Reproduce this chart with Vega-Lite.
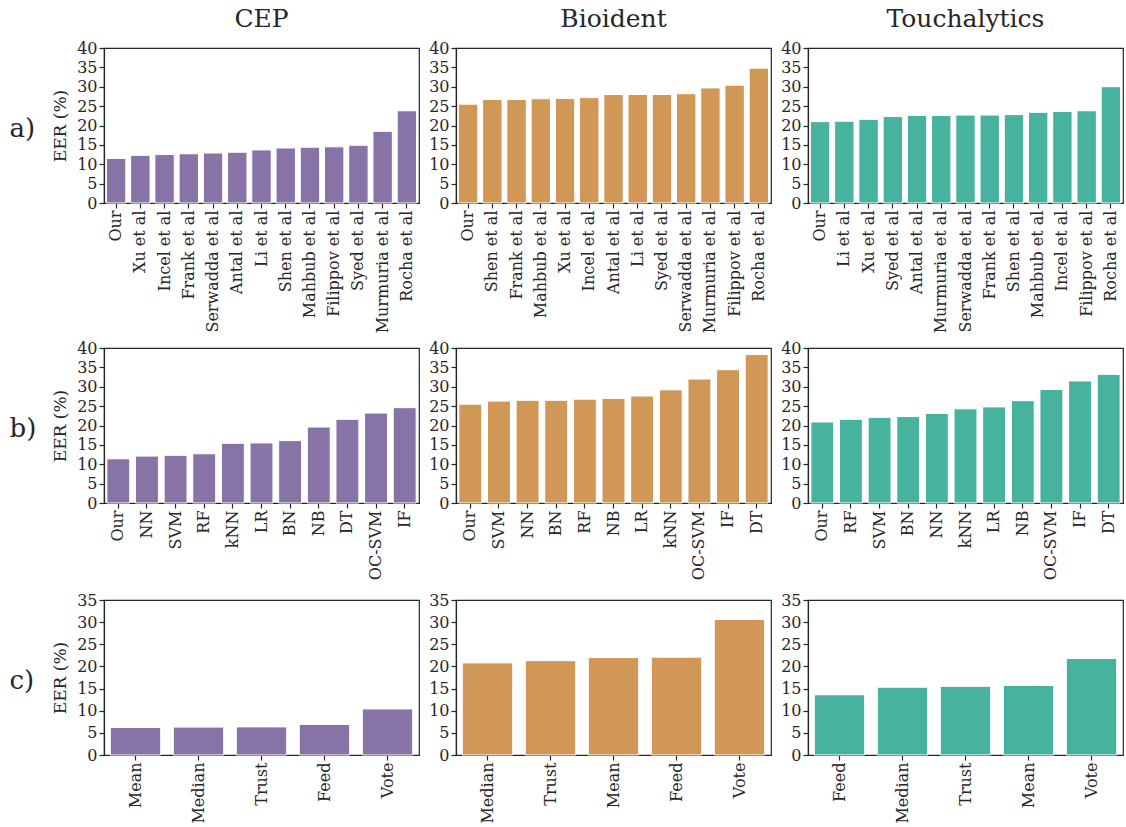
{
  "$schema": "https://vega.github.io/schema/vega-lite/v6.json",
  "background": "white",
  "padding": {"left": 8, "top": 6, "right": 2, "bottom": 2},
  "spacing": 5,
  "config": {
    "font": "DejaVu Serif",
    "view": {"stroke": "#262626", "strokeWidth": 1.2},
    "axis": {"labelFont": "DejaVu Serif", "labelFontSize": 16, "labelColor": "#262626", "domainColor": "#262626", "domainWidth": 1.2, "tickColor": "#262626", "tickSize": 5, "tickWidth": 1.2, "grid": false, "titleFont": "DejaVu Serif", "titleFontWeight": "normal", "titleFontSize": 17, "titleColor": "#262626", "labelPadding": 2},
    "title": {"font": "DejaVu Serif", "fontSize": 25, "fontWeight": "normal", "color": "#262626", "offset": 8},
    "bar": {"stroke": "white", "strokeWidth": 1},
    "concat": {"spacing": 8}
  },
  "datasets": {
    "cep_a": [
      {"method": "Our", "eer": 11.5}, {"method": "Xu et al", "eer": 12.3}, {"method": "Incel et al", "eer": 12.5},
      {"method": "Frank et al", "eer": 12.7}, {"method": "Serwadda et al", "eer": 12.9}, {"method": "Antal et al", "eer": 13.1},
      {"method": "Li et al", "eer": 13.7}, {"method": "Shen et al", "eer": 14.2}, {"method": "Mahbub et al", "eer": 14.4},
      {"method": "Filippov et al", "eer": 14.5}, {"method": "Syed et al", "eer": 14.9}, {"method": "Murmuria et al", "eer": 18.5},
      {"method": "Rocha et al", "eer": 23.8}
    ],
    "bio_a": [
      {"method": "Our", "eer": 25.5}, {"method": "Shen et al", "eer": 26.7}, {"method": "Frank et al", "eer": 26.7},
      {"method": "Mahbub et al", "eer": 26.9}, {"method": "Xu et al", "eer": 27.0}, {"method": "Incel et al", "eer": 27.2},
      {"method": "Antal et al", "eer": 28.0}, {"method": "Li et al", "eer": 28.0}, {"method": "Syed et al", "eer": 28.0},
      {"method": "Serwadda et al", "eer": 28.2}, {"method": "Murmuria et al", "eer": 29.7}, {"method": "Filippov et al", "eer": 30.4},
      {"method": "Rocha et al", "eer": 34.8}
    ],
    "touch_a": [
      {"method": "Our", "eer": 21.0}, {"method": "Li et al", "eer": 21.1}, {"method": "Xu et al", "eer": 21.6},
      {"method": "Syed et al", "eer": 22.3}, {"method": "Antal et al", "eer": 22.6}, {"method": "Murmuria et al", "eer": 22.6},
      {"method": "Serwadda et al", "eer": 22.7}, {"method": "Frank et al", "eer": 22.7}, {"method": "Shen et al", "eer": 22.8},
      {"method": "Mahbub et al", "eer": 23.4}, {"method": "Incel et al", "eer": 23.6}, {"method": "Filippov et al", "eer": 23.8},
      {"method": "Rocha et al", "eer": 30.0}
    ],
    "cep_b": [
      {"method": "Our", "eer": 11.4}, {"method": "NN", "eer": 12.1}, {"method": "SVM", "eer": 12.3}, {"method": "RF", "eer": 12.7},
      {"method": "kNN", "eer": 15.4}, {"method": "LR", "eer": 15.5}, {"method": "BN", "eer": 16.1}, {"method": "NB", "eer": 19.6},
      {"method": "DT", "eer": 21.6}, {"method": "OC-SVM", "eer": 23.2}, {"method": "IF", "eer": 24.6}
    ],
    "bio_b": [
      {"method": "Our", "eer": 25.5}, {"method": "SVM", "eer": 26.3}, {"method": "NN", "eer": 26.5}, {"method": "BN", "eer": 26.5},
      {"method": "RF", "eer": 26.8}, {"method": "NB", "eer": 27.0}, {"method": "LR", "eer": 27.6}, {"method": "kNN", "eer": 29.2},
      {"method": "OC-SVM", "eer": 32.0}, {"method": "IF", "eer": 34.4}, {"method": "DT", "eer": 38.3}
    ],
    "touch_b": [
      {"method": "Our", "eer": 20.9}, {"method": "RF", "eer": 21.6}, {"method": "SVM", "eer": 22.1}, {"method": "BN", "eer": 22.3},
      {"method": "NN", "eer": 23.1}, {"method": "kNN", "eer": 24.3}, {"method": "LR", "eer": 24.8}, {"method": "NB", "eer": 26.4},
      {"method": "OC-SVM", "eer": 29.3}, {"method": "IF", "eer": 31.5}, {"method": "DT", "eer": 33.2}
    ],
    "cep_c": [
      {"method": "Mean", "eer": 6.2}, {"method": "Median", "eer": 6.3}, {"method": "Trust", "eer": 6.35},
      {"method": "Feed", "eer": 6.9}, {"method": "Vote", "eer": 10.4}
    ],
    "bio_c": [
      {"method": "Median", "eer": 20.8}, {"method": "Trust", "eer": 21.3}, {"method": "Mean", "eer": 22.0},
      {"method": "Feed", "eer": 22.1}, {"method": "Vote", "eer": 30.6}
    ],
    "touch_c": [
      {"method": "Feed", "eer": 13.6}, {"method": "Median", "eer": 15.3}, {"method": "Trust", "eer": 15.5},
      {"method": "Mean", "eer": 15.7}, {"method": "Vote", "eer": 21.8}
    ]
  },
  "vconcat": [
    {
      "hconcat": [
        {
          "title": "CEP", "width": 315, "height": 155, "data": {"name": "cep_a"},
          "layer": [
            {"mark": {"type": "bar", "color": "#8773A5"},
             "encoding": {
               "x": {"field": "method", "type": "nominal", "sort": null, "title": null, "scale": {"paddingInner": 0.2, "paddingOuter": 0.1}, "axis": {"labelAngle": -90}},
               "y": {"field": "eer", "type": "quantitative", "scale": {"domain": [0, 40], "nice": false}, "axis": {"values": [0,5,10,15,20,25,30,35,40], "title": "EER (%)", "titlePadding": 7}}}},
            {"mark": {"type": "bar", "opacity": 0},
             "encoding": {
               "x": {"field": "method", "type": "nominal", "sort": null, "title": null},
               "y": {"field": "eer", "type": "quantitative", "scale": {"domain": [0, 40], "nice": false}, "axis": {"orient": "left", "title": "a)", "titleAngle": 0, "titleFontSize": 26, "titleAlign": "left", "titleBaseline": "middle", "titleX": -95, "titleY": 80, "labels": false, "ticks": false, "domain": false}}}}
          ],
          "resolve": {"scale": {"y": "independent"}}
        },
        {
          "title": "Bioident", "width": 315, "height": 155, "data": {"name": "bio_a"},
          "mark": {"type": "bar", "color": "#D09757"},
          "encoding": {
            "x": {"field": "method", "type": "nominal", "sort": null, "title": null, "scale": {"paddingInner": 0.2, "paddingOuter": 0.1}, "axis": {"labelAngle": -90}},
            "y": {"field": "eer", "type": "quantitative", "scale": {"domain": [0, 40], "nice": false}, "axis": {"values": [0,5,10,15,20,25,30,35,40], "title": null}}}
        },
        {
          "title": "Touchalytics", "width": 315, "height": 155, "data": {"name": "touch_a"},
          "mark": {"type": "bar", "color": "#47B29E"},
          "encoding": {
            "x": {"field": "method", "type": "nominal", "sort": null, "title": null, "scale": {"paddingInner": 0.2, "paddingOuter": 0.1}, "axis": {"labelAngle": -90}},
            "y": {"field": "eer", "type": "quantitative", "scale": {"domain": [0, 40], "nice": false}, "axis": {"values": [0,5,10,15,20,25,30,35,40], "title": null}}}
        }
      ]
    },
    {
      "spacing": 10,
      "vconcat": [
        {
          "hconcat": [
            {
              "width": 315, "height": 155, "data": {"name": "cep_b"},
              "layer": [
                {"mark": {"type": "bar", "color": "#8773A5"},
                 "encoding": {
                   "x": {"field": "method", "type": "nominal", "sort": null, "title": null, "scale": {"paddingInner": 0.2, "paddingOuter": 0.1}, "axis": {"labelAngle": -90}},
                   "y": {"field": "eer", "type": "quantitative", "scale": {"domain": [0, 40], "nice": false}, "axis": {"values": [0,5,10,15,20,25,30,35,40], "title": "EER (%)", "titlePadding": 7}}}},
                {"mark": {"type": "bar", "opacity": 0},
                 "encoding": {
                   "x": {"field": "method", "type": "nominal", "sort": null, "title": null},
                   "y": {"field": "eer", "type": "quantitative", "scale": {"domain": [0, 40], "nice": false}, "axis": {"orient": "left", "title": "b)", "titleAngle": 0, "titleFontSize": 26, "titleAlign": "left", "titleBaseline": "middle", "titleX": -95, "titleY": 80, "labels": false, "ticks": false, "domain": false}}}}
              ],
              "resolve": {"scale": {"y": "independent"}}
            },
            {
              "width": 315, "height": 155, "data": {"name": "bio_b"},
              "mark": {"type": "bar", "color": "#D09757"},
              "encoding": {
                "x": {"field": "method", "type": "nominal", "sort": null, "title": null, "scale": {"paddingInner": 0.2, "paddingOuter": 0.1}, "axis": {"labelAngle": -90}},
                "y": {"field": "eer", "type": "quantitative", "scale": {"domain": [0, 40], "nice": false}, "axis": {"values": [0,5,10,15,20,25,30,35,40], "title": null}}}
            },
            {
              "width": 315, "height": 155, "data": {"name": "touch_b"},
              "mark": {"type": "bar", "color": "#47B29E"},
              "encoding": {
                "x": {"field": "method", "type": "nominal", "sort": null, "title": null, "scale": {"paddingInner": 0.2, "paddingOuter": 0.1}, "axis": {"labelAngle": -90}},
                "y": {"field": "eer", "type": "quantitative", "scale": {"domain": [0, 40], "nice": false}, "axis": {"values": [0,5,10,15,20,25,30,35,40], "title": null}}}
            }
          ]
        },
        {
          "hconcat": [
            {
              "width": 315, "height": 155, "data": {"name": "cep_c"},
              "layer": [
                {"mark": {"type": "bar", "color": "#8773A5"},
                 "encoding": {
                   "x": {"field": "method", "type": "nominal", "sort": null, "title": null, "scale": {"paddingInner": 0.2, "paddingOuter": 0.1}, "axis": {"labelAngle": -90}},
                   "y": {"field": "eer", "type": "quantitative", "scale": {"domain": [0, 35], "nice": false}, "axis": {"values": [0,5,10,15,20,25,30,35], "title": "EER (%)", "titlePadding": 7}}}},
                {"mark": {"type": "bar", "opacity": 0},
                 "encoding": {
                   "x": {"field": "method", "type": "nominal", "sort": null, "title": null},
                   "y": {"field": "eer", "type": "quantitative", "scale": {"domain": [0, 35], "nice": false}, "axis": {"orient": "left", "title": "c)", "titleAngle": 0, "titleFontSize": 26, "titleAlign": "left", "titleBaseline": "middle", "titleX": -95, "titleY": 80, "labels": false, "ticks": false, "domain": false}}}}
              ],
              "resolve": {"scale": {"y": "independent"}}
            },
            {
              "width": 315, "height": 155, "data": {"name": "bio_c"},
              "mark": {"type": "bar", "color": "#D09757"},
              "encoding": {
                "x": {"field": "method", "type": "nominal", "sort": null, "title": null, "scale": {"paddingInner": 0.2, "paddingOuter": 0.1}, "axis": {"labelAngle": -90}},
                "y": {"field": "eer", "type": "quantitative", "scale": {"domain": [0, 35], "nice": false}, "axis": {"values": [0,5,10,15,20,25,30,35], "title": null}}}
            },
            {
              "width": 315, "height": 155, "data": {"name": "touch_c"},
              "mark": {"type": "bar", "color": "#47B29E"},
              "encoding": {
                "x": {"field": "method", "type": "nominal", "sort": null, "title": null, "scale": {"paddingInner": 0.2, "paddingOuter": 0.1}, "axis": {"labelAngle": -90}},
                "y": {"field": "eer", "type": "quantitative", "scale": {"domain": [0, 35], "nice": false}, "axis": {"values": [0,5,10,15,20,25,30,35], "title": null}}}
            }
          ]
        }
      ]
    }
  ]
}
